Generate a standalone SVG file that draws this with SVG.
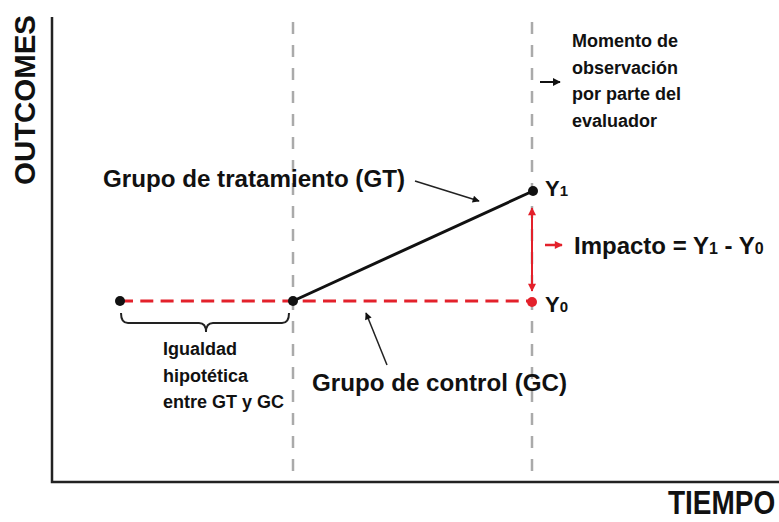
<svg xmlns="http://www.w3.org/2000/svg" width="779" height="522" viewBox="0 0 779 522">
<defs>
<style>
.t{font-family:"Liberation Sans",Arial,sans-serif;font-weight:bold;fill:#111}
.axis{stroke:#222;stroke-width:2.5;fill:none}
.guide{stroke:#aaa;stroke-width:2.5;stroke-dasharray:12 11;fill:none}
.ctrl{stroke:#e3212b;stroke-width:3;stroke-dasharray:13 7.3;fill:none}
.thin{stroke:#222;stroke-width:1.5;fill:none}
</style>
<marker id="ah" viewBox="0 0 10 10" refX="9" refY="5" markerWidth="10" markerHeight="7" markerUnits="userSpaceOnUse" orient="auto"><path d="M0,0 L10,5 L0,10 Z" fill="#111"/></marker>
<marker id="ahb" viewBox="0 0 10 10" refX="9" refY="5" markerWidth="8" markerHeight="8" markerUnits="userSpaceOnUse" orient="auto"><path d="M0,0 L10,5 L0,10 Z" fill="#111"/></marker>
<marker id="ahr" viewBox="0 0 10 10" refX="9" refY="5" markerWidth="9" markerHeight="8" markerUnits="userSpaceOnUse" orient="auto-start-reverse"><path d="M0,0 L10,5 L0,10 Z" fill="#e3212b"/></marker>
</defs>
<rect width="779" height="522" fill="#fff"/>

<g id="axes">
<path class="axis" d="M52,17 L52,482 L779,482"/>
<text class="t" transform="translate(35,185) rotate(-90)" font-size="30" textLength="170" lengthAdjust="spacingAndGlyphs">OUTCOMES</text>
<text class="t" transform="translate(668,514) scale(1,1.2)" font-size="28">TIEMPO</text>
</g>

<g id="guides">
<line class="guide" x1="293" y1="22" x2="293" y2="478"/>
<line class="guide" x1="532" y1="22" x2="532" y2="478"/>
</g>

<g id="connectors">
<line class="ctrl" x1="120" y1="301" x2="532" y2="301"/>
<line x1="293" y1="301" x2="533" y2="191" stroke="#111" stroke-width="3"/>
<line class="thin" x1="415" y1="181" x2="479" y2="201" marker-end="url(#ah)"/>
<line class="thin" x1="387" y1="365" x2="366" y2="313" marker-end="url(#ah)"/>
<line x1="532" y1="208" x2="532" y2="291" stroke="#e3212b" stroke-width="2" marker-start="url(#ahr)" marker-end="url(#ahr)"/>
<line x1="545" y1="245" x2="562" y2="245" stroke="#e3212b" stroke-width="2.5" marker-end="url(#ahr)"/>
<line x1="540" y1="82" x2="560" y2="82" stroke="#111" stroke-width="2" marker-end="url(#ahb)"/>
<path d="M121,313 Q121,323 128,323 L199,323 Q206,323 206,332 Q206,323 213,323 L282,323 Q289,323 289,313" stroke="#222" stroke-width="2" fill="none"/>
</g>

<g id="points">
<circle cx="120" cy="301" r="5" fill="#111"/>
<circle cx="293" cy="301" r="5" fill="#111"/>
<circle cx="533" cy="191" r="5" fill="#111"/>
<circle cx="532" cy="302" r="5" fill="#e3212b"/>
</g>

<g id="label-gt">
<text class="t" x="103" y="187" font-size="24" textLength="302" lengthAdjust="spacingAndGlyphs">Grupo de tratamiento (GT)</text>
</g>
<g id="label-gc">
<text class="t" x="312" y="391" font-size="24" textLength="255" lengthAdjust="spacingAndGlyphs">Grupo de control (GC)</text>
</g>
<g id="label-y1">
<text class="t" x="545" y="196" font-size="22">Y<tspan font-size="15">1</tspan></text>
</g>
<g id="label-y0">
<text class="t" x="545" y="312" font-size="22">Y<tspan font-size="15">0</tspan></text>
</g>
<g id="label-impacto">
<text class="t" x="574" y="254" font-size="24">Impacto = Y<tspan font-size="16">1</tspan> - Y<tspan font-size="16">0</tspan></text>
</g>
<g id="label-momento">
<text class="t" font-size="18">
<tspan x="572" y="47">Momento de</tspan>
<tspan x="572" y="73.5">observación</tspan>
<tspan x="572" y="100">por parte del</tspan>
<tspan x="572" y="127">evaluador</tspan>
</text>
</g>
<g id="label-igualdad">
<text class="t" font-size="18">
<tspan x="163" y="355">Igualdad</tspan>
<tspan x="163" y="382">hipotética</tspan>
<tspan x="163" y="408">entre GT y GC</tspan>
</text>
</g>
</svg>
